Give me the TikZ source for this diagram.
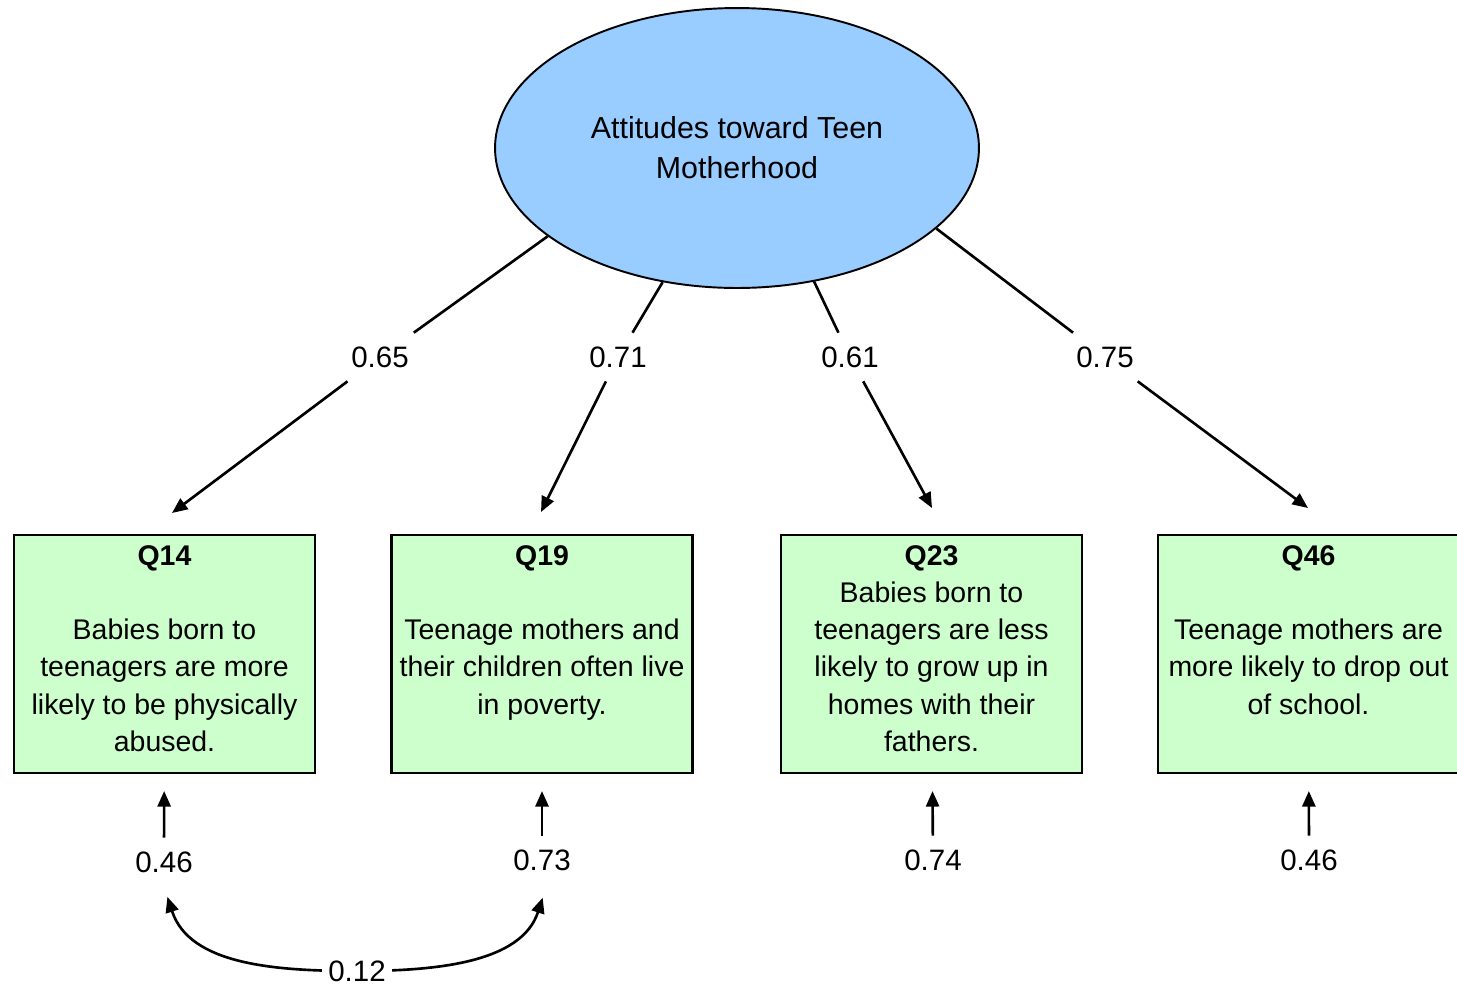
\documentclass[tikz,border=0pt]{standalone}
\usepackage{fontspec}
\setmainfont{Liberation Sans}
\usetikzlibrary{positioning,shapes.geometric,arrows.meta}

\definecolor{latentblue}{RGB}{153,204,255}
\definecolor{obsgreen}{RGB}{204,255,204}

\tikzset{
  semtip/.tip={Triangle[length=0.31cm,width=0.26cm]},
  latent/.style={ellipse, draw, line width=1.1pt, fill=latentblue,
    minimum width=9.68cm, minimum height=5.6cm, inner sep=0pt,
    align=center, font=\fontsize{17.3}{22.8}\selectfont},
  obsbox/.style={rectangle, draw, line width=1.2pt, fill=obsgreen,
    minimum width=6.02cm, minimum height=4.76cm, inner sep=0pt},
  obstext/.style={align=center, inner sep=0pt,
    font=\fontsize{16.2}{21.2}\selectfont},
  coef/.style={fill=white, inner xsep=0.12cm, inner ysep=0pt,
    minimum height=0.96cm, font=\fontsize{16.8}{20}\selectfont},
  loading/.style={line width=1.5pt, -semtip}
}

\begin{document}
\begin{tikzpicture}[x=0.02cm, y=-0.02cm]
  \useasboundingbox (0,0) rectangle (1457,985);
  \clip (0,0) rectangle (1457,985);
  % latent factor
  \node[latent] (att) at (737,148) {Attitudes toward Teen\\Motherhood};
  % items
  \node[obsbox] (q14) at (164.5,654) {};
  \node[obsbox] (q19) at (542,654) {};
  \node[obsbox] (q23) at (931.5,654) {};
  \node[obsbox] (q46) at (1308.5,654) {};
  \node[obstext, below=0.22cm of q14.north] (q14t) {\textbf{Q14}\\[21.2pt]Babies born to\\teenagers are more\\likely to be physically\\abused.};
  \node[obstext, below=0.22cm of q19.north] (q19t) {\textbf{Q19}\\[21.2pt]Teenage mothers and\\their children often live\\in poverty.};
  \node[obstext, below=0.22cm of q23.north] (q23t) {\textbf{Q23}\\Babies born to\\teenagers are less\\likely to grow up in\\homes with their\\fathers.};
  \node[obstext, below=0.22cm of q46.north] (q46t) {\textbf{Q46}\\[21.2pt]Teenage mothers are\\more likely to drop out\\of school.};
  % loadings
  \coordinate (t14) at (172,513);
  \coordinate (t19) at (541,512);
  \coordinate (t23) at (932,508);
  \coordinate (t46) at (1308,508);
  \node[coef] (l14) at (380,357) {0.65};
  \node[coef] (l19) at (618,357) {0.71};
  \node[coef] (l23) at (850,357) {0.61};
  \node[coef] (l46) at (1105,357) {0.75};
  \draw[loading] (att.-155.5) -- (l14) -- (t14);
  \draw[loading] (att.-119.7) -- (l19) -- (t19);
  \draw[loading] (att.-60.4) -- (l23) -- (t23);
  \draw[loading] (att.-22.8) -- (l46) -- (t46);
  % residuals
  \node[coef] (e14) at (164,862) {0.46};
  \node[coef] (e19) at (542,860) {0.73};
  \node[coef] (e23) at (933,860) {0.74};
  \node[coef] (e46) at (1309,860) {0.46};
  \draw[loading, shorten >=0.34cm] (e14) -- (q14);
  \draw[loading, shorten >=0.34cm] (e19) -- (q19);
  \draw[loading, shorten >=0.34cm] (e23) -- (q23);
  \draw[loading, shorten >=0.34cm] (e46) -- (q46);
  % covariance
  \coordinate (c12pos) at (357,971);
  \draw[loading, semtip-semtip, shorten <=0.22cm, shorten >=0.28cm]
    (e14.south) to[out=-72,in=180] (c12pos) to[out=0,in=-108] ([xshift=0.1cm]e19.south);
  \node[coef] (c12) at (c12pos) {0.12};
\end{tikzpicture}
\end{document}
